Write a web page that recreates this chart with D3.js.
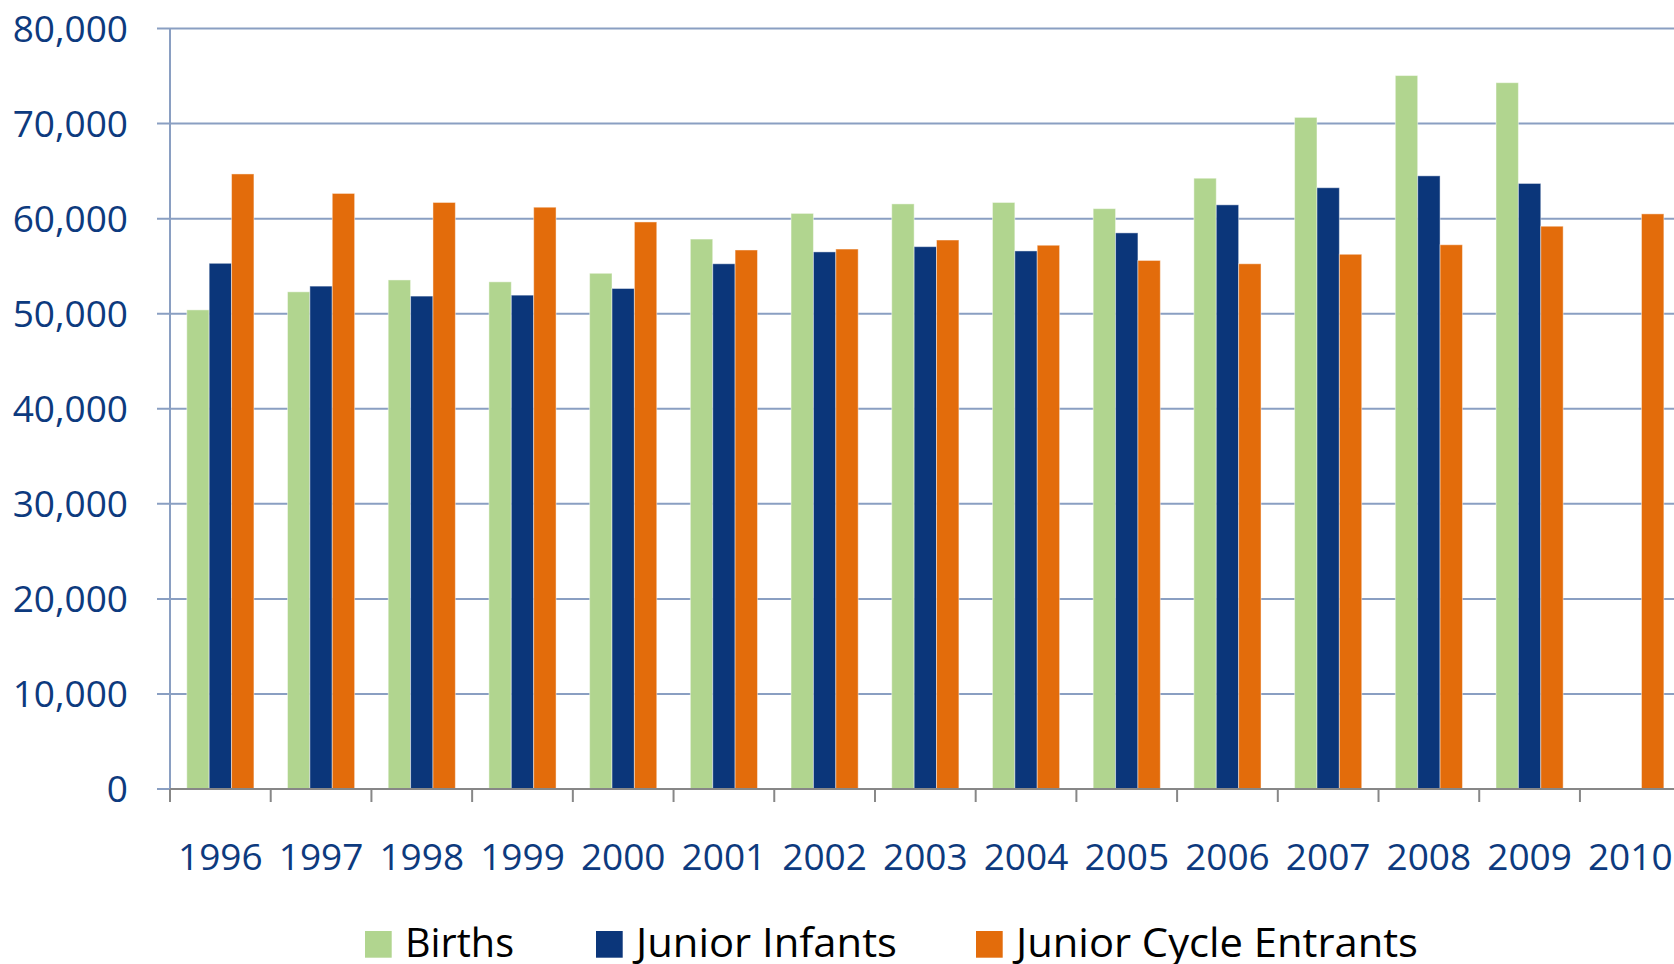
<!DOCTYPE html>
<html>
<head>
<meta charset="utf-8">
<script src="https://cdn.jsdelivr.net/npm/d3@7"></script>
<style>
  html, body { margin: 0; padding: 0; background: #ffffff; overflow: hidden; }
  svg { display: block; }
</style>
</head>
<body>
<svg id="chart" width="1674" height="964"></svg>
<script>
// ---- Data ----
const years = ["1996","1997","1998","1999","2000","2001","2002","2003","2004","2005","2006","2007","2008","2009","2010"];
const seriesNames = ["Births", "Junior Infants", "Junior Cycle Entrants"];
const births          = [50400, 52300, 53550, 53350, 54250, 57850, 60550, 61550, 61700, 61050, 64250, 70650, 75050, 74300, null];
const juniorInfants   = [55300, 52900, 51850, 51950, 52650, 55250, 56500, 57050, 56600, 58500, 61450, 63250, 64500, 63700, null];
const juniorCycle     = [64700, 62650, 61700, 61200, 59650, 56700, 56800, 57750, 57200, 55600, 55250, 56250, 57250, 59200, 60500];
const yTickValues = [0, 10000, 20000, 30000, 40000, 50000, 60000, 70000, 80000];
const colors = ["#b1d58f", "#0b367a", "#e36c0b"];

// ---- Layout ----
const svg = d3.select("#chart");
const W = 1674, H = 964;
const plotLeft = 170, plotTop = 28.5, plotBottom = 789;
const step = 100.71;
const plotRight = plotLeft + years.length * step;

svg.append("rect").attr("width", W).attr("height", H).attr("fill", "#ffffff");

const y = d3.scaleLinear().domain([0, 80000]).range([plotBottom, plotTop]);
const x0 = d3.scaleBand().domain(years).range([plotLeft, plotRight])
  .paddingInner(1/3).paddingOuter(1/6);
const x1 = d3.scaleBand().domain(seriesNames).range([0, x0.bandwidth()]).padding(0);

const gridColor = "#8a9fc2";
const labelColor = "#0d3a7e";
const fontFamily = "'Open Sans', 'Noto Sans', sans-serif";

// Gridlines + y-axis tick marks
svg.append("g").selectAll("line")
  .data(yTickValues.filter(d => d > 0))
  .join("line")
  .attr("x1", plotLeft - 13).attr("x2", W + 20)
  .attr("y1", d => y(d)).attr("y2", d => y(d))
  .attr("stroke", gridColor).attr("stroke-width", 2);

// tick at zero (left of axis)
svg.append("line")
  .attr("x1", plotLeft - 13).attr("x2", plotLeft)
  .attr("y1", y(0)).attr("y2", y(0))
  .attr("stroke", gridColor).attr("stroke-width", 2);

// y axis line
svg.append("line")
  .attr("x1", plotLeft).attr("x2", plotLeft)
  .attr("y1", y(80000)).attr("y2", y(0))
  .attr("stroke", gridColor).attr("stroke-width", 2);

// y labels
const fmt = d3.format(",");
svg.append("g").selectAll("text")
  .data(yTickValues)
  .join("text")
  .attr("x", 128)
  .attr("y", d => y(d))
  .attr("dy", "0.36em")
  .attr("text-anchor", "end")
  .attr("font-family", fontFamily)
  .attr("font-size", 37)
  .attr("fill", labelColor)
  .text(d => fmt(d));

// Bars
const seriesData = [births, juniorInfants, juniorCycle];
const groups = svg.append("g").selectAll("g")
  .data(years)
  .join("g")
  .attr("transform", d => `translate(${x0(d)},0)`);

groups.selectAll("rect")
  .data((d, i) => seriesNames.map((s, j) => ({ s, j, v: seriesData[j][i] })).filter(e => e.v != null))
  .join("rect")
  .attr("x", e => x1(e.s))
  .attr("width", x1.bandwidth())
  .attr("y", e => y(e.v))
  .attr("height", e => y(0) - y(e.v))
  .attr("fill", e => colors[e.j])
  .attr("stroke", "#ffffff")
  .attr("stroke-opacity", 0.45)
  .attr("stroke-width", 1);

// x axis line
svg.append("line")
  .attr("x1", plotLeft).attr("x2", W + 20)
  .attr("y1", y(0)).attr("y2", y(0))
  .attr("stroke", "#878787").attr("stroke-width", 2);

// x ticks at category boundaries
const boundaries = years.map(d => x0(d) - (x0.step() - x0.bandwidth()) / 2);
svg.append("g").selectAll("line")
  .data(boundaries)
  .join("line")
  .attr("x1", d => d).attr("x2", d => d)
  .attr("y1", y(0)).attr("y2", y(0) + 13)
  .attr("stroke", "#878787").attr("stroke-width", 2);

// x labels
svg.append("g").selectAll("text")
  .data(years)
  .join("text")
  .attr("x", d => x0(d) + x0.bandwidth() / 2)
  .attr("y", 870)
  .attr("text-anchor", "middle")
  .attr("font-family", fontFamily)
  .attr("font-size", 37)
  .attr("fill", labelColor)
  .text(d => d);

// Legend
const legendX = [365, 596, 976];
const legendTextW = [109, 261, 402];
const legend = svg.append("g").selectAll("g")
  .data(seriesNames)
  .join("g")
  .attr("transform", (d, i) => `translate(${legendX[i]},931)`);
legend.append("rect")
  .attr("width", 26.7).attr("height", 26.7)
  .attr("fill", (d, i) => colors[i]);
legend.append("text")
  .attr("x", 40)
  .attr("y", 26)
  .attr("font-family", fontFamily)
  .attr("font-size", 40)
  .attr("fill", "#000000")
  .attr("textLength", (d, i) => legendTextW[i])
  .attr("lengthAdjust", "spacingAndGlyphs")
  .text(d => d);
</script>
</body>
</html>
